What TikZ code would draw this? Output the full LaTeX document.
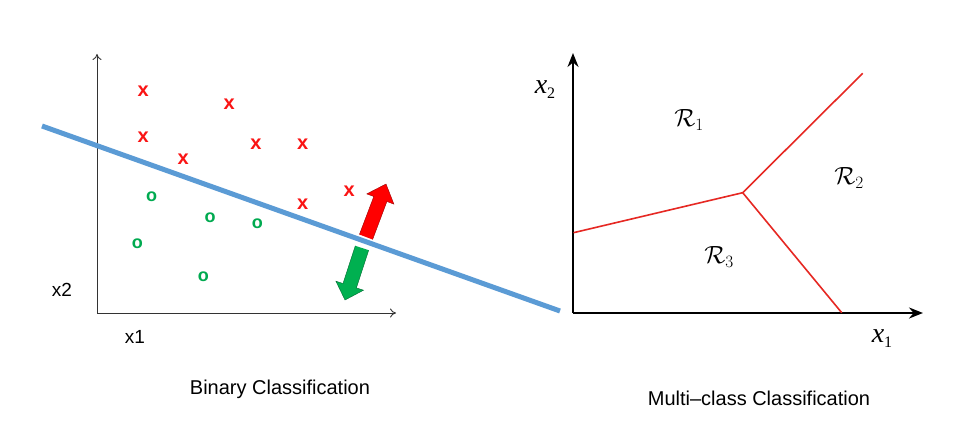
\documentclass[tikz,border=0pt]{standalone}
\usepackage{fontspec}
\setmainfont{Liberation Sans}
\newfontfamily\serifx{Liberation Serif}
\usetikzlibrary{arrows.meta}
\definecolor{linblue}{RGB}{91,155,213}
\definecolor{ptred}{RGB}{250,20,20}
\definecolor{ptgreen}{RGB}{0,170,80}
\definecolor{arrgreen}{RGB}{0,176,80}
\definecolor{bndred}{RGB}{230,40,35}
\tikzset{
  lbl/.style={font=\fontsize{19}{22}\selectfont, inner sep=0pt},
  captext/.style={font=\fontsize{20}{24}\selectfont, inner sep=0pt},
  xmark/.style={font=\fontsize{20}{22}\selectfont\bfseries, text=ptred, inner sep=0pt},
  omark/.style={font=\fontsize{18}{20}\selectfont\bfseries, text=ptgreen, inner sep=0pt},
  thinaxis/.style={draw=black!80, line width=0.9pt, -{To[length=6pt,width=9pt]}},
  boldaxis/.style={draw=black, line width=1.8pt, -{Stealth[length=14pt,width=11pt]}},
  bnd/.style={draw=bndred, line width=1.6pt},
  mlbl/.style={font=\fontsize{26}{30}\selectfont, inner sep=0pt},
  axlbl/.style={font=\serifx\fontsize{28}{30}\selectfont, inner sep=0pt},
}
\newcommand{\axvar}[1]{\textit{x}\raisebox{-5pt}{\fontsize{16}{18}\selectfont #1}}
\begin{document}
\begin{tikzpicture}[x=1pt,y=-1pt]
\path[use as bounding box, fill=white] (0,0) rectangle (966,433);

% ---------- left: binary classification ----------
\coordinate (lo) at (97,313);
\coordinate (ly) at (97,54);
\coordinate (lx) at (396,313);
\draw[thinaxis] (lo) -- (ly);
\draw[thinaxis] (lo) -- (lx);

\node[lbl] (x2l) at (62,290) {x2};
\node[lbl] (x1l) at (135,337) {x1};

\node[xmark] (r1) at (143.3,91.7) {x};
\node[xmark] (r2) at (229.3,104.3) {x};
\node[xmark] (r3) at (143.3,137.7) {x};
\node[xmark] (r4) at (183.3,159.3) {x};
\node[xmark] (r5) at (256,144.3) {x};
\node[xmark] (r6) at (302.7,144.3) {x};
\node[xmark] (r7) at (302.7,204) {x};
\node[xmark] (r8) at (349.3,191) {x};

\node[omark] (g1) at (151.7,196.7) {o};
\node[omark] (g2) at (210,217.7) {o};
\node[omark] (g3) at (257.3,224) {o};
\node[omark] (g4) at (137.3,243.3) {o};
\node[omark] (g5) at (203.3,277) {o};

\coordinate (bl1) at (42,126);
\coordinate (bl2) at (560,311);
\draw[linblue, line width=5pt] (bl1) -- (bl2);

% red arrow (up)
\fill[red] (359.4,234.5) -- (373.8,196.5) -- (366.8,193.9) -- (386,184)
  -- (393.9,204.1) -- (386.9,201.5) -- (372.6,239.5) -- cycle;
\draw[red!60!black, line width=0.4pt] (359.4,234.5) -- (373.8,196.5) -- (366.8,193.9) -- (386,184)
  -- (393.9,204.1) -- (386.9,201.5) -- (372.6,239.5);
% green arrow (down)
\fill[arrgreen] (355.3,245.8) -- (343.0,283.5) -- (335.9,281.2) -- (345,300)
  -- (363.5,290.2) -- (356.4,287.9) -- (368.7,250.2) -- cycle;
\draw[arrgreen!60!black, line width=0.4pt] (355.3,245.8) -- (343.0,283.5) -- (335.9,281.2) -- (345,300)
  -- (363.5,290.2) -- (356.4,287.9) -- (368.7,250.2);

\node[captext] (capl) at (280,389) {Binary Classification};

% ---------- right: multi-class classification ----------
\coordinate (ro) at (573,313);
\coordinate (ry) at (573,53);
\coordinate (rx) at (923,313);
\draw[boldaxis] (ro) -- (ry);
\draw[boldaxis] (ro) -- (rx);

\coordinate (j) at (742.7,192.7);
\coordinate (jl) at (573.5,232.7);
\coordinate (jr) at (862.7,73.3);
\coordinate (jb) at (841.7,312.7);
\draw[bnd] (jl) -- (j) -- (jr);
\draw[bnd] (j) -- (jb);

\node[axlbl] (x2r) at (545,90) {\axvar{2}};
\node[axlbl] (x1r) at (882,339) {\axvar{1}};
\node[mlbl] (R1) at (689,120) {$\mathcal{R}_1$};
\node[mlbl] (R2) at (849,178) {$\mathcal{R}_2$};
\node[mlbl] (R3) at (719,257) {$\mathcal{R}_3$};

\node[captext] (capr) at (759,398) {Multi–class Classification};
\end{tikzpicture}
\end{document}
